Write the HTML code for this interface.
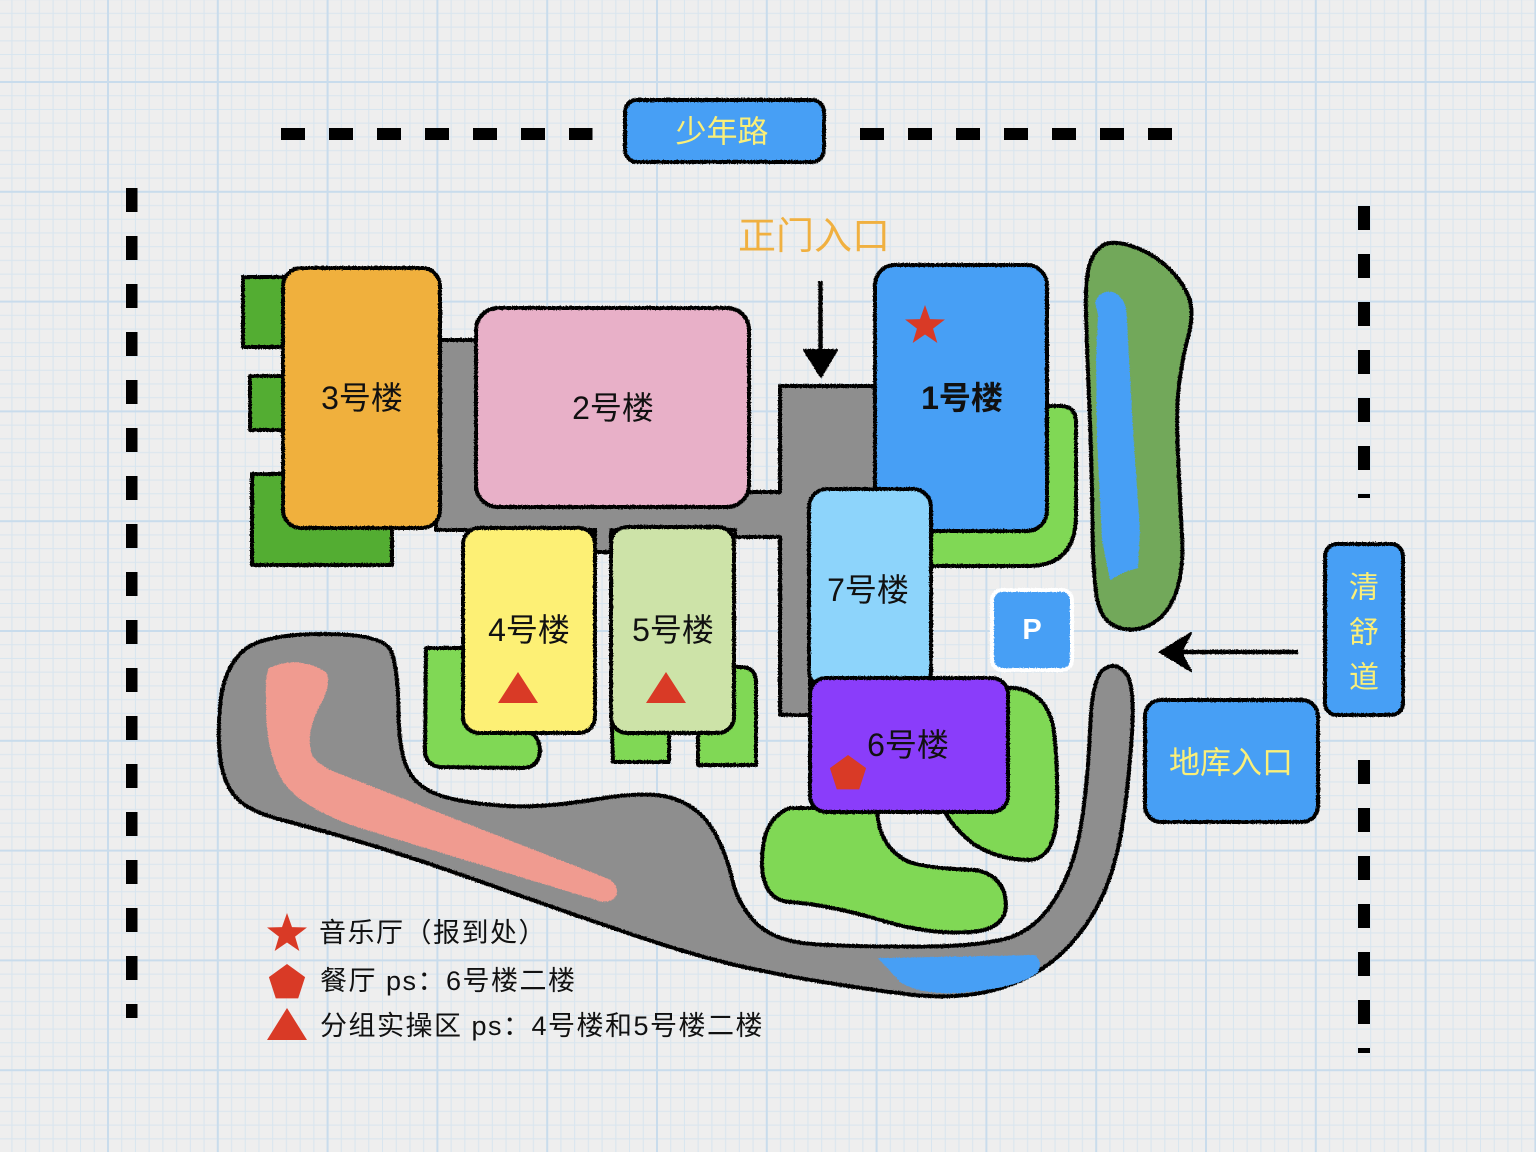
<!DOCTYPE html>
<html>
<head>
<meta charset="utf-8">
<style>
html,body{margin:0;padding:0;width:1536px;height:1152px;overflow:hidden;background:#eeeeee}
svg{display:block}
text{font-family:"Liberation Sans","Noto Sans CJK SC",sans-serif}
</style>
</head>
<body>
<svg width="1536" height="1152" viewBox="0 0 1536 1152" xmlns="http://www.w3.org/2000/svg">
<defs>
  <pattern id="grid" width="109.8" height="109.8" patternUnits="userSpaceOnUse" x="-1.8" y="-27.8">
    <rect width="109.8" height="109.8" fill="#eeeeee"/>
    <path d="M13.725 0V109.8M27.45 0V109.8M41.175 0V109.8M54.9 0V109.8M68.625 0V109.8M82.35 0V109.8M96.075 0V109.8M0 13.725H109.8M0 27.45H109.8M0 41.175H109.8M0 54.9H109.8M0 68.625H109.8M0 82.35H109.8M0 96.075H109.8" stroke="#d8e5ef" stroke-width="1" fill="none"/>
    <path d="M0 0V109.8M109.8 0V109.8M0 0H109.8M0 109.8H109.8" stroke="#c9dcec" stroke-width="2" fill="none"/>
  </pattern>
  <filter id="rough" x="-3%" y="-3%" width="106%" height="106%">
    <feTurbulence type="fractalNoise" baseFrequency="0.85" numOctaves="1" seed="4" result="n"/>
    <feDisplacementMap in="SourceGraphic" in2="n" scale="2.6" xChannelSelector="R" yChannelSelector="G"/>
  </filter>
</defs>

<rect width="1536" height="1152" fill="url(#grid)"/>

<!-- dashed boundary lines -->
<g stroke="#000" fill="none" stroke-dasharray="24 24">
  <line x1="131.75" y1="188" x2="131.75" y2="1018" stroke-width="11.5"/>
  <line x1="1364" y1="206" x2="1364" y2="498" stroke-width="12"/>
  <line x1="1364" y1="760" x2="1364" y2="1053" stroke-width="12"/>
  <line x1="281" y1="134" x2="592.5" y2="134" stroke-width="12"/>
  <line x1="860" y1="134" x2="1172" y2="134" stroke-width="12"/>
</g>

<g filter="url(#rough)" stroke="#000" stroke-width="4" stroke-linejoin="round">
  <!-- big bottom road -->
  <path fill="#8e8e8e" d="M323,634 Q384,634 391,651 Q398,668 398.5,711.5 Q399,755 409.5,772.5 Q420,790 445,797 Q470,804 507.5,806 Q545,808 597.5,799 Q650,790 675,799 Q700,808 713,830 Q726,852 732,878.5 Q738,905 756.5,923.5 Q775,942 817.5,944.5 Q860,947 925,946.5 Q990,946 1015,935.5 Q1040,925 1057.5,895 Q1075,865 1081.5,822.5 Q1088,780 1090,730 Q1092,680 1102.5,670.5 Q1113,661 1124.5,671.5 Q1136,682 1131.5,741 Q1127,800 1120.5,836 Q1114,872 1101,899 Q1088,926 1068,947 Q1048,968 1021.5,980 Q995,992 967.5,995 Q940,998 910,994.5 Q880,991 835,984 Q790,977 744,967 Q698,957 629,933.5 Q560,910 490,885 Q420,860 370.5,845 Q321,830 285.5,821 Q250,812 237,798.5 Q224,785 220.5,760 Q217,735 220.5,701.5 Q224,668 243,651 Q262,634 323,634 Z"/>
  <!-- pink path -->
  <path fill="#f09b90" stroke="none" d="M269,668 Q298,655 326,672 Q332,685 320,705 Q305,735 312,755 Q318,765 335,772 L606,878 Q620,884 616,896 Q610,905 596,900 L360,828 Q300,808 282,780 Q265,750 266,700 Q265,675 269,668 Z"/>
  <!-- blue pool -->
  <path fill="#479ff5" stroke="none" d="M878,958 L1035,955 Q1043,962 1038,972 Q1020,988 960,993 Q920,995 900,982 Z"/>

  <!-- top gray road network -->
  <path fill="#8e8e8e" d="M436,340 L500,340 L500,492 L780,492 L780,386 L876,386 L876,520 L810,520 L810,715 L780,715 L780,537 L735,537 L735,530 L611,530 L611,552 L595,552 L595,530 L436,530 Z"/>

  <!-- dark green patches by 3号楼 -->
  <rect x="243" y="277" width="52" height="70" fill="#53ad33"/>
  <rect x="250" y="376" width="45" height="54" fill="#53ad33"/>
  <rect x="252" y="474" width="140" height="91" fill="#53ad33"/>

  <!-- light green by 1号楼 -->
  <path fill="#80d854" d="M900,406 L1062,406 Q1077,407 1076,425 L1076,515 Q1076,565 1030,566 L900,566 Z"/>
  <!-- greens by 4号楼 -->
  <path fill="#80d854" d="M426,648 L480,648 L480,733 L530,733 Q540,737 540,752 Q538,768 522,768 L440,767 Q425,765 425,750 Z"/>
  <!-- greens by 5号楼 -->
  <path fill="#80d854" d="M611,700 L669,700 L669,762 L613,762 Z"/>
  <path fill="#80d854" d="M720,667 L742,667 Q756,668 756,682 L756,765 L698,765 L698,700 L720,700 Z"/>
  <!-- greens by 6号楼 -->
  <path fill="#80d854" d="M990,688 L1015,688 Q1045,692 1053,725 Q1058,760 1057,807 Q1057,858 1030,860 Q1000,860 975,845 Q955,830 945,812 L990,812 Z"/>
  <path fill="#80d854" d="M790,808 L877,808 Q878,845 905,860 Q920,868 975,870 Q1005,875 1006,905 Q1005,930 970,932 Q930,935 880,920 Q830,905 790,902 Q762,900 762,862 Q762,818 790,808 Z"/>

  <!-- pond -->
  <path fill="#72a85a" d="M1131.5,246 Q1150,252 1165,265 Q1180,278 1187.5,294 Q1195,310 1188.5,335 Q1182,360 1179,385 Q1176,410 1178,455 Q1180,500 1182,535 Q1184,570 1176,592.5 Q1168,615 1151.5,624 Q1135,633 1118.5,627.5 Q1102,622 1097.5,601 Q1093,580 1092.5,525 Q1092,470 1089.5,410 Q1087,350 1086,315 Q1085,280 1089.5,265 Q1094,250 1103.5,245 Q1113,240 1131.5,246 Z"/>
  <path fill="#479ff5" stroke="none" d="M1095,302 Q1100,290 1112,292 Q1127,296 1127,320 L1128,340 L1133,430 L1140,530 L1138,568 L1125,572 L1110,580 L1102,540 L1097,440 L1096,360 L1098,315 Z"/>

  <!-- buildings -->
  <rect x="283" y="268" width="157" height="260" rx="18" fill="#f0b03c"/>
  <rect x="476" y="308" width="273" height="199" rx="22" fill="#e8b0c8"/>
  <rect x="463" y="528" width="132" height="205" rx="16" fill="#fdf075"/>
  <rect x="611" y="527" width="123" height="206" rx="16" fill="#cde3a8"/>
  <rect x="875" y="265" width="172" height="266" rx="20" fill="#479ff5"/>
  <rect x="809" y="489" width="122" height="200" rx="18" fill="#8dd4fb"/>
  <rect x="810" y="678" width="198" height="134" rx="16" fill="#8a3cfa"/>

  <!-- label boxes -->
  <rect x="625" y="100" width="199" height="62" rx="12" fill="#479ff5"/>
  <rect x="1325" y="544" width="78" height="171" rx="12" fill="#479ff5"/>
  <rect x="1145" y="700" width="173" height="122" rx="16" fill="#479ff5"/>
  <rect x="992" y="590" width="80" height="80" rx="10" fill="#479ff5" stroke="#ffffff"/>

  <!-- arrows -->
  <line x1="820.5" y1="281" x2="820.5" y2="356" stroke-width="4.5"/>
  <polygon points="804,350 837,350 821,377" fill="#000" stroke-width="2"/>
  <line x1="1298" y1="652" x2="1172" y2="652" stroke-width="4.5"/>
  <polygon points="1160,652 1191,633 1181,652 1191,671" fill="#000" stroke-width="2"/>
</g>

<!-- markers -->
<g fill="#d93a26">
  <polygon transform="translate(925,326)" points="0,-21 5,-6.88 19.97,-6.49 8.08,2.63 12.34,16.99 0,8.5 -12.34,16.99 -8.08,2.63 -19.97,-6.49 -5,-6.88"/>
  <polygon points="498,703 538,703 518,672"/>
  <polygon points="646,703 686,703 666,672"/>
  <polygon points="848,755 866.1,768.1 859.2,789.4 836.8,789.4 829.9,768.1"/>
  <polygon transform="translate(287,934)" points="0,-21 5,-6.88 19.97,-6.49 8.08,2.63 12.34,16.99 0,8.5 -12.34,16.99 -8.08,2.63 -19.97,-6.49 -5,-6.88"/>
  <polygon points="287,964 305.1,977.1 298.2,998.4 275.8,998.4 268.9,977.1"/>
  <polygon points="267,1040 307,1040 287,1008"/>
</g>

<!-- building labels -->
<g font-size="32" fill="#111" text-anchor="middle" dominant-baseline="central">
  <text x="362" y="398">3号楼</text>
  <text x="613" y="408">2号楼</text>
  <text x="962" y="398" font-weight="bold">1号楼</text>
  <text x="868" y="590">7号楼</text>
  <text x="529" y="630">4号楼</text>
  <text x="673" y="630">5号楼</text>
  <text x="908" y="745">6号楼</text>
</g>

<!-- road / entrance labels -->
<g fill="#fbef78" text-anchor="middle" dominant-baseline="central">
  <text x="722" y="132" font-size="31">少年路</text>
  <text x="1364" y="588" font-size="30">清</text>
  <text x="1364" y="633" font-size="30">舒</text>
  <text x="1364" y="678" font-size="30">道</text>
  <text x="1231" y="763" font-size="31">地库入口</text>
</g>
<text x="814" y="237" font-size="38" fill="#f0b040" text-anchor="middle" dominant-baseline="central">正门入口</text>
<text x="1032" y="630" font-size="29" font-weight="bold" fill="#ffffff" text-anchor="middle" dominant-baseline="central">P</text>

<!-- legend -->
<g font-size="27" fill="#111" dominant-baseline="central" letter-spacing="1.5">
  <text x="319" y="933">音乐厅（报到处）</text>
  <text x="320" y="981">餐厅 ps：6号楼二楼</text>
  <text x="320" y="1026">分组实操区 ps：4号楼和5号楼二楼</text>
</g>
</svg>
</body>
</html>
